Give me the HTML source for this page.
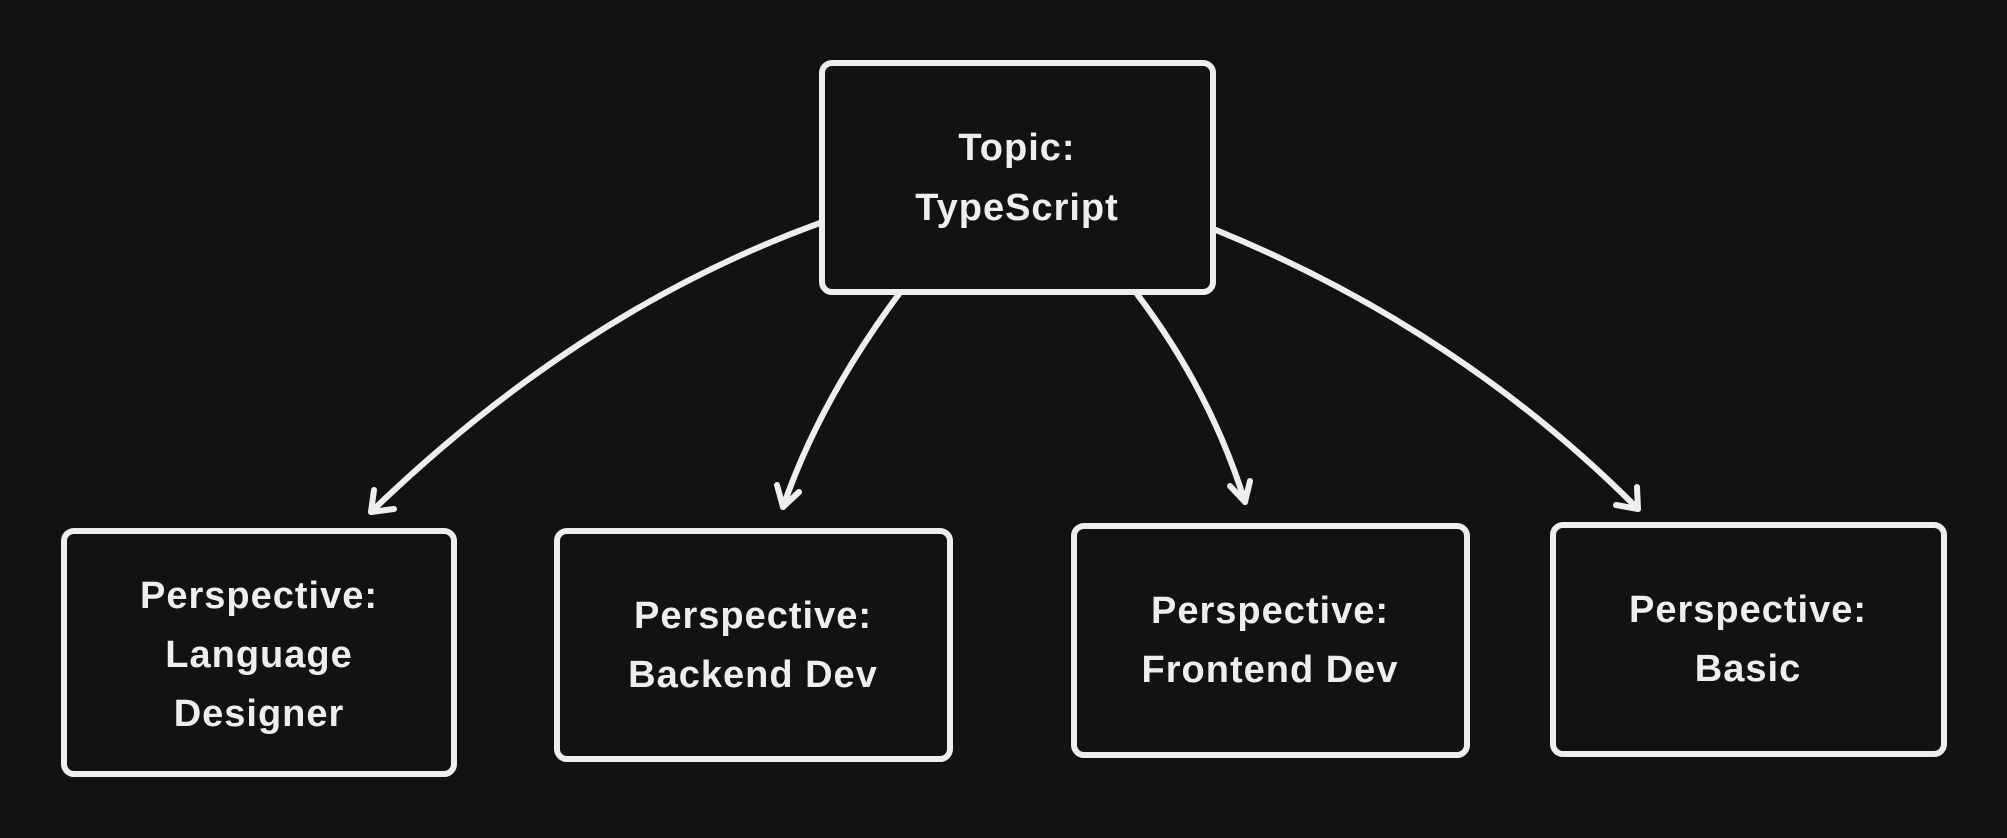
<!DOCTYPE html>
<html><head><style>
html,body{margin:0;padding:0;background:#121212;}
svg{display:block}
text{font-family:"Liberation Sans",sans-serif;font-weight:bold;font-size:38px;fill:#eeeeee;text-anchor:middle;letter-spacing:1px}
</style></head><body>
<svg width="2007" height="838" viewBox="0 0 2007 838">
<rect width="2007" height="838" fill="#121212"/>
<g fill="none" stroke="#eeeeee" stroke-width="6" stroke-linecap="round" stroke-linejoin="round">
<rect x="822" y="63" width="391" height="229" rx="10"/>
<rect x="64" y="531" width="390" height="243" rx="10"/>
<rect x="557" y="531" width="393" height="228" rx="10"/>
<rect x="1074" y="526" width="393" height="229" rx="10"/>
<rect x="1553" y="525" width="391" height="229" rx="10"/>
<path d="M820 223 Q580 310 371 512"/>
<path d="M371 512 L374 490 M371 512 L394 509"/>
<path d="M899 294 Q820 400 783 507"/>
<path d="M783 507 L777 485 M783 507 L799 492"/>
<path d="M1137 294 Q1210 390 1245 502"/>
<path d="M1245 502 L1230 486 M1245 502 L1250 481"/>
<path d="M1216 230 Q1460 330 1638 509"/>
<path d="M1638 509 L1616 505 M1638 509 L1637 487"/>
</g>
<text x="1017" y="160">Topic:</text>
<text x="1017" y="220">TypeScript</text>
<text x="259" y="608">Perspective:</text>
<text x="259" y="667">Language</text>
<text x="259" y="726">Designer</text>
<text x="753" y="628">Perspective:</text>
<text x="753" y="687">Backend Dev</text>
<text x="1270" y="623">Perspective:</text>
<text x="1270" y="682">Frontend Dev</text>
<text x="1748" y="622">Perspective:</text>
<text x="1748" y="681">Basic</text>
</svg>
</body></html>
